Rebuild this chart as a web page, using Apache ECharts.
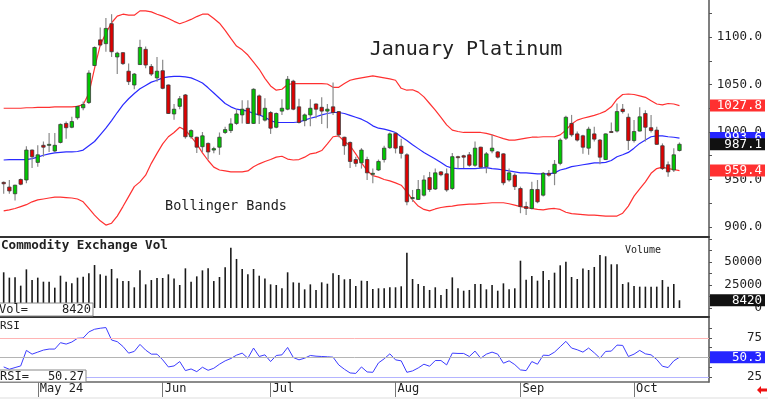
<!DOCTYPE html>
<html>
<head>
<meta charset="utf-8">
<title>January Platinum</title>
<script src="https://cdn.jsdelivr.net/npm/echarts@6/dist/echarts.min.js"></script>
<style>
  html, body { margin: 0; padding: 0; background: #fff; }
  #chart { width: 768px; height: 399px; }
</style>
</head>
<body>
<div id="chart"></div>
<script>
// trading days, index 0 = Apr 23 2024 ... index 119 = Oct 11 2024
const monthStarts = [6, 28, 47, 69, 91, 111];
const monthNames = ["May 24", "Jun", "Jul", "Aug", "Sep", "Oct"];

const opens = [
  947, 942, 935, 950, 949.5, 981, 968, 986, 986, 980,
  989, 1009, 1005, 1015, 1025.5, 1031, 1070, 1097, 1093, 1114,
  1079, 1083.5, 1064, 1049.5, 1071, 1087, 1069, 1057, 1064.5, 1049.5,
  1019, 1027, 1039, 995, 994.5, 984.5, 988, 981, 984, 999.5,
  1001.5, 1009, 1018, 1025, 1009, 1038, 1012.5, 1020.5, 1005, 1022,
  1024, 1053.5, 1026.5, 1012, 1018, 1029.5, 1026, 1022, 1026.5, 1021.5,
  994.5, 989, 971, 967.5, 971, 955.5, 960, 971, 983.5, 998.5,
  985, 976, 930, 929, 933.5, 952, 940, 958, 956, 940.5,
  974, 975, 976, 965, 984, 963.5, 980, 979, 977, 949.5,
  954.5, 940.5, 921.5, 919.5, 939.5, 933.5, 956.5, 956.5, 967, 993.5,
  1009, 998, 996, 983, 998, 991.5, 971, 1000.5, 1001, 1024,
  1015.5, 991, 1001, 1019.5, 1004.5, 1002, 985.5, 965.5, 960, 980.5
];
const closes = [
  945.5, 938, 944, 945, 981, 974, 976, 984, 987, 986,
  1008, 1004.5, 1011, 1027, 1029, 1062, 1089, 1091.5, 1109, 1084.5,
  1083, 1072, 1053, 1061, 1089, 1070.5, 1061, 1064, 1046, 1019.5,
  1024, 1035, 995, 1001.5, 984, 996, 979, 982.5, 994.5, 1002.5,
  1008.5, 1019, 1024, 1009, 1045, 1018, 1025, 1004, 1019.5, 1025,
  1055.5, 1024, 1010, 1018, 1025, 1024, 1022, 1024, 1020.5, 997,
  985.5, 969, 967, 981, 957, 956.5, 969, 983, 998, 983,
  977.5, 926.5, 931, 939.5, 949.5, 939.5, 957, 955, 939, 974,
  973, 973.5, 965, 983, 963, 977, 983, 973.5, 946.5, 957,
  942.5, 921.5, 919.5, 939.5, 926.5, 956.5, 954.5, 966, 991.5, 1015.5,
  997, 991.5, 984, 1003, 992.5, 973.5, 998, 1000, 1021.5, 1021.5,
  991, 1000.5, 1016, 1005, 1001.5, 987, 961.5, 958, 976, 987.1
];
const lows = [
  935, 935, 928, 944, 946, 962, 963.5, 974, 979, 979,
  988, 993, 1004, 1013, 1023, 1029.5, 1069, 1090, 1084.5, 1079,
  1061, 1070.5, 1049.5, 1045, 1070.5, 1067, 1059, 1053, 1045, 1019,
  1013, 1024, 993, 993, 978, 979, 971, 977.5, 976, 998,
  999, 1007.5, 1009, 1008.5, 1008.5, 1008.5, 1011, 998, 1004, 1018,
  1023, 1023, 1009, 1006, 1006, 1014.5, 1008.5, 1004, 1018, 994.5,
  976, 962, 963.5, 961.5, 949.5, 946, 959, 968, 982, 977.5,
  972, 923, 926.5, 928.5, 932, 937, 939, 953.5, 937, 939,
  961.5, 962, 963.5, 963.5, 961.5, 956.5, 977.5, 972, 944, 947.5,
  939, 914.5, 912.5, 918.5, 925, 932, 953, 944, 965, 991.5,
  995, 990, 977, 976, 990, 966, 970.5, 999.5, 999.5, 1019.5,
  981, 989, 1000.5, 990, 999.5, 986.5, 960, 953, 958, 979.5
];
const highs = [
  948, 949.5, 944.5, 951, 985, 981.5, 986, 990, 999, 999,
  1009, 1011, 1016, 1027.5, 1032, 1065, 1090, 1110, 1120, 1124,
  1084.5, 1084, 1072, 1062, 1097, 1090, 1071.5, 1079, 1076, 1050,
  1029.5, 1038, 1040, 1003, 995, 1000, 989, 984.5, 999.5, 1005.5,
  1014.5, 1024, 1033.5, 1033.5, 1046, 1039.5, 1035.5, 1022, 1020.5, 1034.5,
  1059, 1055, 1035, 1019.5, 1034.5, 1030, 1036.5, 1029.5, 1052, 1022,
  995, 990, 974, 983, 974, 961.5, 971, 985.5, 999.5, 999.5,
  993, 977.5, 939, 949.5, 954.5, 958, 961.5, 959, 961.5, 978,
  975, 976, 979, 990, 984.5, 979, 997, 980, 977.5, 961.5,
  956.5, 942.5, 926.5, 947.5, 949.5, 958, 960, 970.5, 993.5, 1017,
  1018, 1000.5, 997, 1005.5, 1005.5, 992.5, 998.5, 1010, 1030, 1029.5,
  1019.5, 1012.5, 1026, 1023, 1018, 1005.5, 988, 969, 983, 989
];

const bbUpper = [
  1025, 1025, 1025, 1025, 1025.5, 1025.5, 1026, 1026, 1026, 1026.5,
  1026.5, 1026.5, 1026.5, 1027, 1029, 1040.5, 1067, 1091.5, 1104, 1115,
  1122, 1124, 1123, 1123, 1127.5, 1127.5, 1126.5, 1124, 1122, 1119.5,
  1116.5, 1114, 1116, 1118.5, 1121.5, 1124, 1124, 1119.5, 1114.5, 1107,
  1098.5, 1090.5, 1086.5, 1081, 1073.5, 1066, 1056.5, 1048.5, 1044, 1045,
  1050, 1051, 1051, 1051, 1051, 1051, 1051, 1050.5, 1047, 1047,
  1051, 1054.5, 1056, 1057, 1058, 1059, 1058, 1057, 1056, 1054.5,
  1046, 1044, 1044.5, 1042, 1037, 1030, 1023, 1015.5, 1007.5, 1002,
  1000.5, 999.5, 999.5, 999.5, 999.5, 998.5, 997, 995, 993, 991.5,
  991.5, 992.5, 993.5, 994.5, 994.5, 995, 995, 995, 997, 1002,
  1008.5, 1012.5, 1014.5, 1016, 1017.5, 1019.5, 1022, 1026.5, 1034.5, 1039.5,
  1040, 1039.5, 1038, 1036.5, 1033, 1029.5, 1028.5, 1030, 1029.5, 1027.8
];
const bbMid = [
  970.5, 971, 971, 971, 971, 972, 973.5, 975.5, 977, 978,
  978.5, 979, 979, 979.5, 981, 985.5, 990, 997, 1004, 1012,
  1020.5, 1028.5, 1035, 1040.5, 1045.5, 1049, 1052.5, 1054.5, 1057, 1058,
  1058.5, 1058.5, 1058, 1057, 1054.5, 1051.5, 1046.5, 1041, 1035.5, 1030,
  1026.5, 1024, 1023, 1022, 1019.5, 1018, 1015.5, 1012, 1010, 1010,
  1010, 1010, 1010.5, 1012.5, 1014.5, 1016, 1018, 1019.5, 1020.5, 1020.5,
  1019.5, 1017.5, 1015.5, 1013.5, 1010.5, 1006.5, 1004, 1003, 1001.5, 999.5,
  995, 991, 986.5, 982.5, 978.5, 975, 971.5, 968, 964, 962,
  961.5, 961.5, 961.5, 961.5, 962, 962.5, 961.5, 961, 960, 959,
  958, 957, 957, 956.5, 956, 956, 956, 957, 960, 961.5,
  963.5, 964.5, 965.5, 966.5, 967.5, 967.5, 968, 970, 974, 976,
  978.5, 983, 988, 991.5, 995, 996, 996, 995, 994.5, 993.6
];
const bbLower = [
  917, 918, 919.5, 921.5, 923.5, 926.5, 928.5, 929.5, 930.5, 931.5,
  931.5, 931, 930.5, 929.5, 926.5, 919.5, 912.5, 906.5, 902, 904,
  911.5, 921.5, 932, 942.5, 947.5, 954.5, 967, 977.5, 987.5, 995,
  999.5, 1005, 1002, 995, 987.5, 978, 970, 963, 960, 959,
  958, 958, 958, 959, 963.5, 966.5, 969, 971, 973.5, 974.5,
  971.5, 970.5, 971, 973.5, 977, 978, 980.5, 987.5, 995, 996,
  990, 985.5, 977, 967.5, 959.5, 954, 952.5, 950, 948.5, 946.5,
  944, 937, 928.5, 922, 918.5, 917, 919, 920.5, 921.5, 922,
  923, 923.5, 924, 924, 924.5, 925, 925.5, 925.5, 925.5, 924.5,
  923, 921.5, 920.5, 919.5, 918.5, 918, 919, 919.5, 918.5, 915.5,
  914, 913.5, 913, 912.5, 912.5, 912, 911.5, 911.5, 911.5, 914.5,
  922, 932.5, 940, 947.5, 956.5, 961.5, 963, 961.5, 960.5, 959.4
];

const volume = [
  38800, 33000, 33300, 24300, 42000, 30400, 33000, 28600, 28600, 22100,
  35100, 28600, 26800, 33000, 34100, 37700, 46700, 36600, 35100, 42400,
  32200, 29300, 29300, 22500, 40900, 25700, 30400, 32600, 32600, 36600,
  32200, 25000, 43100, 28600, 34400, 40900, 43100, 29300, 33700, 44200,
  65600, 53300, 42400, 36600, 42400, 35100, 32200, 25700, 25000, 21400,
  38800, 27900, 27500, 20300, 25700, 19600, 27900, 26400, 37700, 35900,
  31200, 31500, 23900, 29700, 29300, 20700, 21400, 21400, 22500, 22500,
  23600, 60100, 31500, 26100, 23900, 19600, 22500, 14100, 20700, 33300,
  21400, 18800, 19600, 26100, 26100, 20300, 25000, 18800, 26800, 20300,
  21400, 51400, 30800, 34800, 29700, 40200, 30400, 38400, 46400, 50400,
  33700, 31500, 42800, 41300, 44600, 57600, 56200, 47500, 47500, 26100,
  27900, 23900, 23200, 23200, 23200, 23200, 30400, 23200, 26100, 8420
];

const rsi = [
  37.9, 34.9, 37.1, 39.2, 59.1, 54.3, 56.9, 59.5, 60.8, 60.8,
  69, 67.2, 69.8, 74.6, 75, 82.8, 86.2, 87.5, 88.4, 72.4,
  70.3, 64.2, 55.6, 57.8, 66.8, 59.5, 54.3, 54.3, 47, 37.9,
  39.2, 44.8, 33.2, 35.3, 31.9, 37.5, 33.6, 36.2, 41.4, 45.7,
  48.7, 53, 55.6, 49.1, 62.1, 51.3, 53.4, 44.8, 52.6, 53.4,
  62.9, 50, 47, 49.1, 52.6, 51.7, 51.3, 50.9, 50.4, 40.5,
  34.9, 30.2, 29.6, 37.9, 31.5, 31, 43.1, 48.3, 54.7, 47,
  45.7, 31, 32.8, 36.6, 41.4, 38.8, 46.1, 46.1, 40.5, 55.6,
  55.2, 55.2, 51.3, 58.2, 49.1, 54.3, 56.9, 54.3, 42.7, 45.7,
  40.9, 34.1, 33.2, 44.8, 41.4, 53, 52.6, 56.9, 63.8, 70.7,
  62.1, 59.9, 56.9, 62.1, 56, 49.1, 57.8, 58.2, 65.9, 65.5,
  51.3, 54.3, 59.1, 54.7, 53.4, 47.4, 38.8, 37.1, 45.7, 50.27
];

const priceLabels = [900, 950, 1000, 1050, 1100];
const priceTicks = [900, 925, 950, 975, 1000, 1025, 1050, 1075, 1100, 1125];
const volLabels = [0, 25000, 50000];
const volTicks = [0, 12500, 25000, 37500, 50000, 62500, 75000];
const rsiLabels = [25, 50, 75];
const rsiTicks = [25, 37.5, 50, 62.5, 75, 87.5];

const MONO = '"DejaVu Sans Mono", monospace';
const last = closes.length - 1;
const xMin = -0.648, xMax = 124.2;

const pairs = arr => arr.map((v, i) => [i, v]);

// value tags on the right edge
function tagAxis(grid, min, max, vals, colors, fmt) {
  const rich = {};
  colors.forEach((c, k) => {
    rich["t" + k] = {
      backgroundColor: c, color: "#fff", width: 51, height: 12, lineHeight: 12,
      align: "right", padding: [0, 3, 0, 1], fontFamily: MONO, fontSize: 12.5
    };
  });
  return {
    type: "value", gridIndex: grid, position: "right", min: min, max: max, z: 5,
    axisLine: { show: false, onZero: false }, axisTick: { show: false }, splitLine: { show: false },
    axisLabel: {
      customValues: vals, margin: 1, align: "left",
      formatter: v => {
        const k = vals.findIndex(x => Math.abs(x - v) < 1e-6);
        return "{t" + k + "|" + fmt(v) + "}";
      },
      rich: rich
    }
  };
}

function scaleAxis(grid, min, max, labels, ticks, fmt) {
  return {
    type: "value", gridIndex: grid, position: "right", min: min, max: max,
    axisLine: { show: true, onZero: false, lineStyle: { color: "#555", width: 1.5 } },
    axisTick: { show: true, customValues: ticks, length: 3, lineStyle: { color: "#555" } },
    splitLine: { show: false },
    axisLabel: {
      customValues: labels, formatter: fmt, align: "right", margin: 53,
      color: "#222", fontFamily: MONO, fontSize: 12.5
    }
  };
}

function border(grid, color, width) {
  return {
    type: "value", gridIndex: grid, min: xMin, max: xMax,
    axisLine: { show: true, onZero: false, lineStyle: { color: color, width: width } },
    axisTick: { show: false }, axisLabel: { show: false }, splitLine: { show: false }
  };
}

// candle: gray wick, dark-outlined body
function renderCandle(params, api) {
  const x = api.value(0);
  const o = api.coord([x, api.value(1)]);
  const c = api.coord([x, api.value(2)]);
  const lo = api.coord([x, api.value(3)]);
  const hi = api.coord([x, api.value(4)]);
  const up = api.value(2) >= api.value(1);
  const top = Math.min(o[1], c[1]);
  const h = Math.max(Math.abs(o[1] - c[1]), 1);
  return {
    type: "group",
    children: [
      { type: "line", shape: { x1: lo[0], y1: lo[1], x2: hi[0], y2: hi[1] },
        style: { stroke: "#8a8a8a", lineWidth: 1.2 } },
      { type: "rect", shape: { x: o[0] - 1.7, y: top, width: 3.4, height: h },
        style: { fill: up ? "#00c800" : "#e00000", stroke: "#3a3a3a", lineWidth: 0.8 } }
    ]
  };
}

const chart = echarts.init(document.getElementById("chart"));

const bottomAxis = border(2, "#666", 1.5);
bottomAxis.axisTick = { show: true, customValues: monthStarts, length: 15, lineStyle: { color: "#777" } };
bottomAxis.axisLabel = {
  show: true, customValues: monthStarts, align: "left", margin: 1, padding: [0, 0, 0, 2],
  color: "#222", fontFamily: MONO, fontSize: 12,
  formatter: v => monthNames[monthStarts.indexOf(Math.round(v))]
};

chart.setOption({
  animation: false,
  backgroundColor: "#fff",
  grid: [
    { left: 0, right: 55, top: 0, height: 237 },
    { left: 0, right: 55, top: 238, height: 79 },
    { left: 0, right: 55, top: 318, height: 64 }
  ],
  xAxis: [border(0, "#333", 2), border(1, "#333", 2), bottomAxis],
  yAxis: [
    scaleAxis(0, 889.47, 1138.95, priceLabels, priceTicks, v => v.toFixed(1)),
    tagAxis(0, 889.47, 1138.95,
      [bbUpper[last], bbMid[last], closes[last], bbLower[last]],
      ["#ff3030", "#2424ff", "#111111", "#ff3030"], v => v.toFixed(1)),
    scaleAxis(1, -9783, 76087, volLabels, volTicks, v => String(v)),
    tagAxis(1, -9783, 76087, [volume[last]], ["#111111"], v => String(v)),
    scaleAxis(2, 18.59, 100.64, rsiLabels, rsiTicks, v => String(v)),
    tagAxis(2, 18.59, 100.64, [rsi[last]], ["#2424ff"], v => v.toFixed(1))
  ],
  series: [
    {
      type: "line", name: "upper", xAxisIndex: 0, yAxisIndex: 0, data: pairs(bbUpper),
      showSymbol: false, lineStyle: { color: "#ff3030", width: 1.2 }, z: 1
    },
    {
      type: "line", name: "mid", xAxisIndex: 0, yAxisIndex: 0, data: pairs(bbMid),
      showSymbol: false, lineStyle: { color: "#2a2aff", width: 1.2 }, z: 1
    },
    {
      type: "line", name: "lower", xAxisIndex: 0, yAxisIndex: 0, data: pairs(bbLower),
      showSymbol: false, lineStyle: { color: "#ff3030", width: 1.2 }, z: 1
    },
    {
      type: "custom", name: "price", xAxisIndex: 0, yAxisIndex: 0, z: 3,
      renderItem: renderCandle,
      data: closes.map((c, i) => [i, opens[i], c, lows[i], highs[i]]),
      encode: { x: 0, y: [1, 2, 3, 4] }
    },
    {
      type: "bar", xAxisIndex: 1, yAxisIndex: 2, data: pairs(volume),
      barWidth: 1.6, itemStyle: { color: "#1a1a1a" }
    },
    {
      type: "line", xAxisIndex: 2, yAxisIndex: 4, data: pairs(rsi),
      showSymbol: false, lineStyle: { color: "#3c3cff", width: 1 }, z: 3,
      markLine: {
        silent: true, symbol: ["none", "none"], label: { show: false },
        data: [
          { yAxis: 75, lineStyle: { color: "#ffb4b4", type: "solid", width: 1 } },
          { yAxis: 50, lineStyle: { color: "#b4b4b4", type: "solid", width: 1 } },
          { yAxis: 25, lineStyle: { color: "#b4b4ff", type: "solid", width: 1 } }
        ]
      }
    }
  ],
  graphic: [
    {
      type: "text", x: 466, y: 50, z: 10,
      style: { text: "January Platinum", font: '20px "DejaVu Sans Mono"', fill: "#222",
        textAlign: "center", textVerticalAlign: "middle", align: "center", verticalAlign: "middle" }
    },
    {
      type: "text", x: 165, y: 206, z: 10,
      style: { text: "Bollinger Bands", font: '13.5px "DejaVu Sans Mono"', fill: "#222",
        textAlign: "left", textVerticalAlign: "middle", align: "left", verticalAlign: "middle" }
    },
    {
      type: "text", x: 1, y: 246, z: 10,
      style: { text: "Commodity Exchange Vol", font: 'bold 12.6px "DejaVu Sans Mono"', fill: "#222",
        textAlign: "left", textVerticalAlign: "middle", align: "left", verticalAlign: "middle" }
    },
    {
      type: "text", x: 625, y: 250, z: 10,
      style: { text: "Volume", font: '10px "DejaVu Sans Mono"', fill: "#222",
        textAlign: "left", textVerticalAlign: "middle", align: "left", verticalAlign: "middle" }
    },
    {
      type: "text", x: 0, y: 326, z: 10,
      style: { text: "RSI", font: '11px "DejaVu Sans Mono"', fill: "#222",
        textAlign: "left", textVerticalAlign: "middle", align: "left", verticalAlign: "middle" }
    },
    {
      type: "rect", z: 10, shape: { x: -1, y: 303, width: 94, height: 13 },
      style: { fill: "#fff", stroke: "#888", lineWidth: 1 }
    },
    {
      type: "text", x: -1, y: 310, z: 11,
      style: { text: "Vol=", font: '12px "DejaVu Sans Mono"', fill: "#222",
        textAlign: "left", textVerticalAlign: "middle", align: "left", verticalAlign: "middle" }
    },
    {
      type: "text", x: 91, y: 310, z: 11,
      style: { text: String(volume[last]), font: '12px "DejaVu Sans Mono"', fill: "#222",
        textAlign: "right", textVerticalAlign: "middle", align: "right", verticalAlign: "middle" }
    },
    {
      type: "rect", z: 10, shape: { x: -1, y: 370, width: 87, height: 12 },
      style: { fill: "#fff", stroke: "#888", lineWidth: 1 }
    },
    {
      type: "text", x: 0, y: 376.5, z: 11,
      style: { text: "RSI=", font: '12px "DejaVu Sans Mono"', fill: "#222",
        textAlign: "left", textVerticalAlign: "middle", align: "left", verticalAlign: "middle" }
    },
    {
      type: "text", x: 84, y: 376.5, z: 11,
      style: { text: rsi[last].toFixed(2), font: '12px "DejaVu Sans Mono"', fill: "#222",
        textAlign: "right", textVerticalAlign: "middle", align: "right", verticalAlign: "middle" }
    },
    {
      type: "rect", z: 0, shape: { x: 0, y: 397, width: 768, height: 2 },
      style: { fill: "#eeeeee" }
    },
    {
      type: "polygon", z: 10,
      shape: { points: [[757, 390], [761, 386], [761, 388.5], [767, 388.5], [767, 391.5], [761, 391.5], [761, 394]] },
      style: { fill: "#ee1111" }
    }
  ]
});
</script>
</body>
</html>
